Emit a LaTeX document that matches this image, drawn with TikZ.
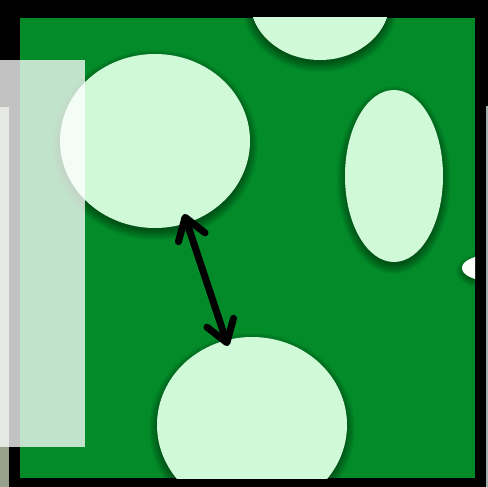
\documentclass[tikz,border=0pt]{standalone}
\usetikzlibrary{arrows.meta}
\definecolor{leaf}{RGB}{3,139,41}
\definecolor{mint}{RGB}{208,250,215}
\definecolor{photo}{RGB}{150,162,140}
\definecolor{edgegray}{RGB}{160,175,175}
\tikzset{
  spot/.style={fill=mint},
  shadowlayer/.style={fill=black, fill opacity=0.045},
  link/.style={line width=7pt, line cap=round, line join=round,
    {Straight Barb[length=21pt,width=28pt,round]}-{Straight Barb[length=21pt,width=28pt,round]}},
  veil/.style={fill=white, fill opacity=0.76}
}
\newcommand{\shadowspot}[4]{%
  \foreach \k in {10,9,8,7,6,5,4,3,2,1,0}{
    \fill[shadowlayer] (#1,#2+4) ellipse [x radius=#3+\k-2, y radius=#4+\k-2];
  }
  \fill[spot] (#1,#2) ellipse [x radius=#3, y radius=#4];
}
\begin{document}
\begin{tikzpicture}[x=1pt,y=-1pt]
  \useasboundingbox (0,0) rectangle (488,487);
  % black backdrop
  \fill[black] (0,0) rectangle (488,487);
  % side strips
  \fill[photo] (0,107) rectangle (9,487);
  \fill[edgegray] (486,106) rectangle (488,487);
  % green board
  \fill[leaf] (20,18) rectangle (475,478);
  \begin{scope}
    \clip (20,18) rectangle (475,478);
    \shadowspot{320}{0}{70}{60}
    \shadowspot{155}{141}{95}{87}
    \shadowspot{394}{176}{49}{86}
    \shadowspot{252}{425}{95}{88}
    \foreach \k in {8,7,6,5,4,3,2,1,0}{
      \fill[shadowlayer] (490,271) ellipse [x radius=26+\k, y radius=11+\k];
    }
    \fill[white!95!mint] (490,268) ellipse [x radius=28, y radius=13];
  \end{scope}
  % arrow
  \coordinate (a) at (184,214);
  \coordinate (b) at (228,346);
  \draw[link] (a) -- (b);
  % translucent panel
  \fill[veil] (0,60) rectangle (85,447);
\end{tikzpicture}
\end{document}
